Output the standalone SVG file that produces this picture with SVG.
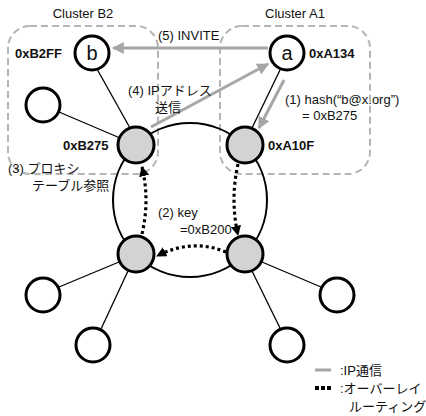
<svg xmlns="http://www.w3.org/2000/svg" width="426" height="416" viewBox="0 0 426 416">
<defs>
<style>
text{font-family:"Liberation Sans","Noto Sans CJK JP",sans-serif;font-size:13px;fill:#111}
.b{font-weight:bold}
.node{fill:#fff;stroke:#000;stroke-width:3}
.gray{fill:#d3d3d3;stroke:#000;stroke-width:3}
.thin{stroke:#000;stroke-width:1.3;fill:none}
.ip{stroke:#a6a6a6;stroke-width:3;fill:none}
.ov{stroke:#000;stroke-width:3.2;fill:none;stroke-dasharray:3 3}
.cl{fill:none;stroke:#b5b5b5;stroke-width:2;stroke-dasharray:7 4}
</style>
<marker id="ag" viewBox="0 0 10 10" refX="9" refY="5" markerWidth="4" markerHeight="4" orient="auto" markerUnits="strokeWidth"><path d="M0,0 L10,5 L0,10 z" fill="#a6a6a6"/></marker>
<marker id="ak" viewBox="0 0 10 10" refX="9" refY="5" markerWidth="3.2" markerHeight="3.2" orient="auto" markerUnits="strokeWidth"><path d="M0,0 L10,5 L0,10 z" fill="#000"/></marker>
</defs>
<g id="clusters">
<rect class="cl" x="8" y="26" width="150" height="148" rx="22"/>
<rect class="cl" x="220" y="26" width="150" height="148" rx="22"/>
<text x="83" y="18" text-anchor="middle">Cluster B2</text>
<text x="295" y="18" text-anchor="middle">Cluster A1</text>
</g>
<g id="connectors">
<circle cx="190" cy="200" r="77" class="thin" style="stroke-width:2"/>
<line class="thin" x1="97" y1="69" x2="130" y2="128"/>
<line class="thin" x1="59" y1="112" x2="120" y2="138"/>
<line class="thin" x1="280" y1="70" x2="252" y2="128"/>
<line class="thin" x1="59" y1="287" x2="119" y2="262"/>
<line class="thin" x1="101" y1="329" x2="128" y2="271"/>
<line class="thin" x1="280" y1="328" x2="252" y2="271"/>
<line class="thin" x1="321" y1="287" x2="262" y2="262"/>
<line class="ip" x1="268" y1="48" x2="113" y2="48" marker-end="url(#ag)"/>
<line class="ip" x1="151" y1="127" x2="268" y2="64" marker-end="url(#ag)"/>
<line class="ip" x1="284" y1="80" x2="259" y2="128" marker-end="url(#ag)"/>
<path class="ov" d="M142,234 Q150,200 142,167" marker-end="url(#ak)"/>
<path class="ov" d="M238,164 Q230,200 238,235" marker-end="url(#ak)"/>
<path class="ov" d="M226,252 Q192,238 157,256" marker-end="url(#ak)"/>
</g>
<g id="node-b"><circle class="node" cx="92" cy="53" r="17"/><text x="92" y="60" text-anchor="middle" style="font-size:20px">b</text></g>
<g id="node-a"><circle class="node" cx="287" cy="53" r="17"/><text x="287" y="60" text-anchor="middle" style="font-size:20px">a</text></g>
<g id="node-l1"><circle class="node" cx="43" cy="105" r="17"/></g>
<g id="node-B275"><circle class="gray" cx="136" cy="145" r="18"/></g>
<g id="node-A10F"><circle class="gray" cx="245" cy="145" r="18"/></g>
<g id="node-bl"><circle class="gray" cx="136" cy="254" r="18"/></g>
<g id="node-br"><circle class="gray" cx="245" cy="254" r="18"/></g>
<g id="node-l2"><circle class="node" cx="43" cy="295" r="17"/></g>
<g id="node-l3"><circle class="node" cx="93" cy="345" r="17"/></g>
<g id="node-l4"><circle class="node" cx="287" cy="345" r="17"/></g>
<g id="node-l5"><circle class="node" cx="337" cy="295" r="17"/></g>
<g id="labels">
<text x="15" y="58" class="b">0xB2FF</text>
<text x="309" y="58" class="b">0xA134</text>
<text x="63" y="150" class="b">0xB275</text>
<text x="268" y="150" class="b">0xA10F</text>
<text x="158" y="40">(5) INVITE</text>
<text x="128" y="95">(4) IPアドレス</text>
<text x="155" y="112">送信</text>
<text x="285" y="104">(1) hash(“b@x.org”)</text>
<text x="302" y="120">= 0xB275</text>
<text x="8" y="173">(3) プロキシ</text>
<text x="32" y="190">テーブル参照</text>
<text x="158" y="217">(2) key</text>
<text x="180" y="234">=0xB200</text>
</g>
<g id="legend">
<line class="ip" x1="315" y1="370" x2="331" y2="370"/>
<line stroke="#000" stroke-width="4" stroke-dasharray="4 2" x1="315" y1="388" x2="331" y2="388"/>
<text x="340" y="375">:IP通信</text>
<text x="340" y="393">:オーバーレイ</text>
<text x="349" y="411">ルーティング</text>
</g>
</svg>
